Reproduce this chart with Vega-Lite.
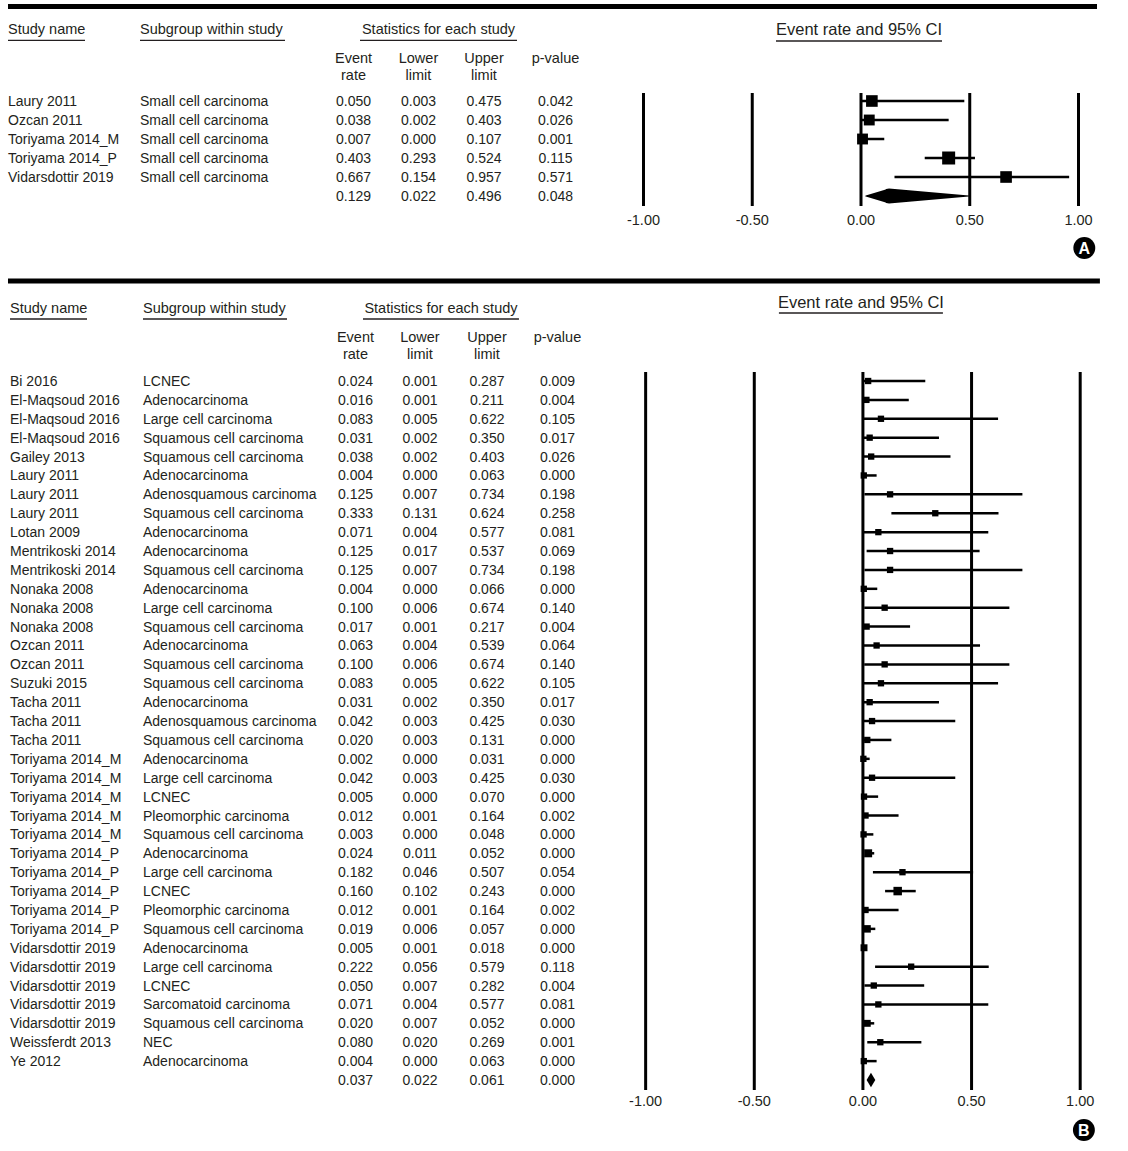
{
  "$schema": "https://vega.github.io/schema/vega-lite/v6.json",
  "padding": 0,
  "spacing": 0,
  "bounds": "flush",
  "background": "white",
  "config": {
    "view": {"stroke": null},
    "axis": {"disable": true},
    "legend": {"disable": true},
    "locale": {"number": {"decimal": ".", "thousands": ",", "grouping": [3], "currency": ["$", ""], "minus": "-"}},
    "text": {"font": "Liberation Sans", "fontSize": 14, "color": "#231f20", "baseline": "middle", "dy": 1}
  },
  "datasets": {
    "ticks": [{"t": -1}, {"t": -0.5}, {"t": 0}, {"t": 0.5}, {"t": 1}],
    "studiesA": [
      {"row": 1, "kind": "study", "study": "Laury 2011", "subgroup": "Small cell carcinoma", "er": 0.050, "lo": 0.003, "hi": 0.475, "p": 0.042, "w": 20.0},
      {"row": 2, "kind": "study", "study": "Ozcan 2011", "subgroup": "Small cell carcinoma", "er": 0.038, "lo": 0.002, "hi": 0.403, "p": 0.026, "w": 17.5},
      {"row": 3, "kind": "study", "study": "Toriyama 2014_M", "subgroup": "Small cell carcinoma", "er": 0.007, "lo": 0.000, "hi": 0.107, "p": 0.001, "w": 17.5},
      {"row": 4, "kind": "study", "study": "Toriyama 2014_P", "subgroup": "Small cell carcinoma", "er": 0.403, "lo": 0.293, "hi": 0.524, "p": 0.115, "w": 25.0},
      {"row": 5, "kind": "study", "study": "Vidarsdottir 2019", "subgroup": "Small cell carcinoma", "er": 0.667, "lo": 0.154, "hi": 0.957, "p": 0.571, "w": 20.0},
      {"row": 6, "kind": "summary", "study": "", "subgroup": "", "er": 0.129, "lo": 0.022, "hi": 0.496, "p": 0.048, "w": 0}
    ],
    "studiesB": [
      {"row": 1, "kind": "study", "study": "Bi 2016", "subgroup": "LCNEC", "er": 0.024, "lo": 0.001, "hi": 0.287, "p": 0.009, "w": 2.5},
      {"row": 2, "kind": "study", "study": "El-Maqsoud 2016", "subgroup": "Adenocarcinoma", "er": 0.016, "lo": 0.001, "hi": 0.211, "p": 0.004, "w": 2.5},
      {"row": 3, "kind": "study", "study": "El-Maqsoud 2016", "subgroup": "Large cell carcinoma", "er": 0.083, "lo": 0.005, "hi": 0.622, "p": 0.105, "w": 2.5},
      {"row": 4, "kind": "study", "study": "El-Maqsoud 2016", "subgroup": "Squamous cell carcinoma", "er": 0.031, "lo": 0.002, "hi": 0.350, "p": 0.017, "w": 2.5},
      {"row": 5, "kind": "study", "study": "Gailey 2013", "subgroup": "Squamous cell carcinoma", "er": 0.038, "lo": 0.002, "hi": 0.403, "p": 0.026, "w": 2.5},
      {"row": 6, "kind": "study", "study": "Laury 2011", "subgroup": "Adenocarcinoma", "er": 0.004, "lo": 0.000, "hi": 0.063, "p": 0.000, "w": 2.5},
      {"row": 7, "kind": "study", "study": "Laury 2011", "subgroup": "Adenosquamous carcinoma", "er": 0.125, "lo": 0.007, "hi": 0.734, "p": 0.198, "w": 2.5},
      {"row": 8, "kind": "study", "study": "Laury 2011", "subgroup": "Squamous cell carcinoma", "er": 0.333, "lo": 0.131, "hi": 0.624, "p": 0.258, "w": 2.5},
      {"row": 9, "kind": "study", "study": "Lotan 2009", "subgroup": "Adenocarcinoma", "er": 0.071, "lo": 0.004, "hi": 0.577, "p": 0.081, "w": 2.5},
      {"row": 10, "kind": "study", "study": "Mentrikoski 2014", "subgroup": "Adenocarcinoma", "er": 0.125, "lo": 0.017, "hi": 0.537, "p": 0.069, "w": 2.5},
      {"row": 11, "kind": "study", "study": "Mentrikoski 2014", "subgroup": "Squamous cell carcinoma", "er": 0.125, "lo": 0.007, "hi": 0.734, "p": 0.198, "w": 2.5},
      {"row": 12, "kind": "study", "study": "Nonaka 2008", "subgroup": "Adenocarcinoma", "er": 0.004, "lo": 0.000, "hi": 0.066, "p": 0.000, "w": 2.5},
      {"row": 13, "kind": "study", "study": "Nonaka 2008", "subgroup": "Large cell carcinoma", "er": 0.100, "lo": 0.006, "hi": 0.674, "p": 0.140, "w": 2.5},
      {"row": 14, "kind": "study", "study": "Nonaka 2008", "subgroup": "Squamous cell carcinoma", "er": 0.017, "lo": 0.001, "hi": 0.217, "p": 0.004, "w": 2.5},
      {"row": 15, "kind": "study", "study": "Ozcan 2011", "subgroup": "Adenocarcinoma", "er": 0.063, "lo": 0.004, "hi": 0.539, "p": 0.064, "w": 2.5},
      {"row": 16, "kind": "study", "study": "Ozcan 2011", "subgroup": "Squamous cell carcinoma", "er": 0.100, "lo": 0.006, "hi": 0.674, "p": 0.140, "w": 2.5},
      {"row": 17, "kind": "study", "study": "Suzuki 2015", "subgroup": "Squamous cell carcinoma", "er": 0.083, "lo": 0.005, "hi": 0.622, "p": 0.105, "w": 2.5},
      {"row": 18, "kind": "study", "study": "Tacha 2011", "subgroup": "Adenocarcinoma", "er": 0.031, "lo": 0.002, "hi": 0.350, "p": 0.017, "w": 2.5},
      {"row": 19, "kind": "study", "study": "Tacha 2011", "subgroup": "Adenosquamous carcinoma", "er": 0.042, "lo": 0.003, "hi": 0.425, "p": 0.030, "w": 2.5},
      {"row": 20, "kind": "study", "study": "Tacha 2011", "subgroup": "Squamous cell carcinoma", "er": 0.020, "lo": 0.003, "hi": 0.131, "p": 0.000, "w": 2.5},
      {"row": 21, "kind": "study", "study": "Toriyama 2014_M", "subgroup": "Adenocarcinoma", "er": 0.002, "lo": 0.000, "hi": 0.031, "p": 0.000, "w": 2.5},
      {"row": 22, "kind": "study", "study": "Toriyama 2014_M", "subgroup": "Large cell carcinoma", "er": 0.042, "lo": 0.003, "hi": 0.425, "p": 0.030, "w": 2.5},
      {"row": 23, "kind": "study", "study": "Toriyama 2014_M", "subgroup": "LCNEC", "er": 0.005, "lo": 0.000, "hi": 0.070, "p": 0.000, "w": 2.5},
      {"row": 24, "kind": "study", "study": "Toriyama 2014_M", "subgroup": "Pleomorphic carcinoma", "er": 0.012, "lo": 0.001, "hi": 0.164, "p": 0.002, "w": 2.5},
      {"row": 25, "kind": "study", "study": "Toriyama 2014_M", "subgroup": "Squamous cell carcinoma", "er": 0.003, "lo": 0.000, "hi": 0.048, "p": 0.000, "w": 2.5},
      {"row": 26, "kind": "study", "study": "Toriyama 2014_P", "subgroup": "Adenocarcinoma", "er": 0.024, "lo": 0.011, "hi": 0.052, "p": 0.000, "w": 4.0},
      {"row": 27, "kind": "study", "study": "Toriyama 2014_P", "subgroup": "Large cell carcinoma", "er": 0.182, "lo": 0.046, "hi": 0.507, "p": 0.054, "w": 2.5},
      {"row": 28, "kind": "study", "study": "Toriyama 2014_P", "subgroup": "LCNEC", "er": 0.160, "lo": 0.102, "hi": 0.243, "p": 0.000, "w": 4.5},
      {"row": 29, "kind": "study", "study": "Toriyama 2014_P", "subgroup": "Pleomorphic carcinoma", "er": 0.012, "lo": 0.001, "hi": 0.164, "p": 0.002, "w": 2.5},
      {"row": 30, "kind": "study", "study": "Toriyama 2014_P", "subgroup": "Squamous cell carcinoma", "er": 0.019, "lo": 0.006, "hi": 0.057, "p": 0.000, "w": 3.5},
      {"row": 31, "kind": "study", "study": "Vidarsdottir 2019", "subgroup": "Adenocarcinoma", "er": 0.005, "lo": 0.001, "hi": 0.018, "p": 0.000, "w": 3.0},
      {"row": 32, "kind": "study", "study": "Vidarsdottir 2019", "subgroup": "Large cell carcinoma", "er": 0.222, "lo": 0.056, "hi": 0.579, "p": 0.118, "w": 2.5},
      {"row": 33, "kind": "study", "study": "Vidarsdottir 2019", "subgroup": "LCNEC", "er": 0.050, "lo": 0.007, "hi": 0.282, "p": 0.004, "w": 2.5},
      {"row": 34, "kind": "study", "study": "Vidarsdottir 2019", "subgroup": "Sarcomatoid carcinoma", "er": 0.071, "lo": 0.004, "hi": 0.577, "p": 0.081, "w": 2.5},
      {"row": 35, "kind": "study", "study": "Vidarsdottir 2019", "subgroup": "Squamous cell carcinoma", "er": 0.020, "lo": 0.007, "hi": 0.052, "p": 0.000, "w": 3.0},
      {"row": 36, "kind": "study", "study": "Weissferdt 2013", "subgroup": "NEC", "er": 0.080, "lo": 0.020, "hi": 0.269, "p": 0.001, "w": 2.5},
      {"row": 37, "kind": "study", "study": "Ye 2012", "subgroup": "Adenocarcinoma", "er": 0.004, "lo": 0.000, "hi": 0.063, "p": 0.000, "w": 2.5},
      {"row": 38, "kind": "summary", "study": "", "subgroup": "", "er": 0.037, "lo": 0.022, "hi": 0.061, "p": 0.000, "w": 0}
    ],
    "badgeA": [{"label": "A"}],
    "badgeB": [{"label": "B"}]
  },
  "vconcat": [
    {
      "width": 1128,
      "height": 279,
      "resolve": {"scale": {"size": "independent"}},
      "layer": [
        {
          "data": {"name": "badgeA"},
          "mark": {"type": "rule", "strokeWidth": 5, "color": "#000000"},
          "encoding": {
            "x": {"datum": -3.9218, "type": "quantitative", "scale": {"domain": [-3.9586, 1.2276], "nice": false, "zero": false}},
            "x2": {"datum": 1.0851},
            "y": {"datum": -3.974, "type": "quantitative", "scale": {"domain": [-4.3158, 10.3684], "nice": false, "zero": false, "reverse": true}}
          }
        },
        {
          "data": {"name": "badgeA"},
          "mark": {"type": "text", "align": "left", "fontSize": 14.5, "text": "Study name"},
          "encoding": {"x": {"datum": -3.9218}, "y": {"datum": -2.789}}
        },
        {
          "data": {"name": "badgeA"},
          "mark": {"type": "text", "align": "left", "fontSize": 14.5, "text": "Subgroup within study"},
          "encoding": {"x": {"datum": -3.3149}, "y": {"datum": -2.789}}
        },
        {
          "data": {"name": "badgeA"},
          "mark": {"type": "text", "align": "center", "fontSize": 14.5, "text": "Statistics for each study"},
          "encoding": {"x": {"datum": -1.9425}, "y": {"datum": -2.789}}
        },
        {
          "data": {"name": "badgeA"},
          "mark": {"type": "text", "align": "center", "fontSize": 16.5, "text": "Event rate and 95% CI"},
          "encoding": {"x": {"datum": -0.0092}, "y": {"datum": -2.789}}
        },
        {
          "data": {"name": "badgeA"},
          "mark": {"type": "rule", "strokeWidth": 1.3, "color": "#231f20"},
          "encoding": {"x": {"datum": -3.9218}, "x2": {"datum": -3.5678}, "y": {"datum": -2.19}}
        },
        {
          "data": {"name": "badgeA"},
          "mark": {"type": "rule", "strokeWidth": 1.3, "color": "#231f20"},
          "encoding": {"x": {"datum": -3.3149}, "x2": {"datum": -2.6483}, "y": {"datum": -2.19}}
        },
        {
          "data": {"name": "badgeA"},
          "mark": {"type": "rule", "strokeWidth": 1.3, "color": "#231f20"},
          "encoding": {"x": {"datum": -2.3034}, "x2": {"datum": -1.5816}, "y": {"datum": -2.19}}
        },
        {
          "data": {"name": "badgeA"},
          "mark": {"type": "rule", "strokeWidth": 1.3, "color": "#231f20"},
          "encoding": {"x": {"datum": -0.3908}, "x2": {"datum": 0.3724}, "y": {"datum": -2.158}}
        },
        {
          "data": {"name": "badgeA"},
          "mark": {"type": "text", "align": "center", "fontSize": 14.5, "lineHeight": 17, "text": ["Event", "rate"]},
          "encoding": {"x": {"datum": -2.3333}, "y": {"datum": -1.263}}
        },
        {
          "data": {"name": "badgeA"},
          "mark": {"type": "text", "align": "center", "fontSize": 14.5, "lineHeight": 17, "text": ["Lower", "limit"]},
          "encoding": {"x": {"datum": -2.0345}, "y": {"datum": -1.263}}
        },
        {
          "data": {"name": "badgeA"},
          "mark": {"type": "text", "align": "center", "fontSize": 14.5, "lineHeight": 17, "text": ["Upper", "limit"]},
          "encoding": {"x": {"datum": -1.7333}, "y": {"datum": -1.263}}
        },
        {
          "data": {"name": "badgeA"},
          "mark": {"type": "text", "align": "center", "fontSize": 14.5, "text": "p-value"},
          "encoding": {"x": {"datum": -1.4046}, "y": {"datum": -1.263}}
        },
        {
          "data": {"name": "studiesA"},
          "mark": {"type": "text", "align": "left"},
          "encoding": {"x": {"datum": -3.9218}, "y": {"field": "row", "type": "quantitative"}, "text": {"field": "study"}}
        },
        {
          "data": {"name": "studiesA"},
          "mark": {"type": "text", "align": "left"},
          "encoding": {"x": {"datum": -3.3149}, "y": {"field": "row", "type": "quantitative"}, "text": {"field": "subgroup"}}
        },
        {
          "data": {"name": "studiesA"},
          "mark": {"type": "text", "align": "center"},
          "encoding": {"x": {"datum": -2.3333}, "y": {"field": "row", "type": "quantitative"}, "text": {"field": "er", "type": "quantitative", "format": ".3f"}}
        },
        {
          "data": {"name": "studiesA"},
          "mark": {"type": "text", "align": "center"},
          "encoding": {"x": {"datum": -2.0345}, "y": {"field": "row", "type": "quantitative"}, "text": {"field": "lo", "type": "quantitative", "format": ".3f"}}
        },
        {
          "data": {"name": "studiesA"},
          "mark": {"type": "text", "align": "center"},
          "encoding": {"x": {"datum": -1.7333}, "y": {"field": "row", "type": "quantitative"}, "text": {"field": "hi", "type": "quantitative", "format": ".3f"}}
        },
        {
          "data": {"name": "studiesA"},
          "mark": {"type": "text", "align": "center"},
          "encoding": {"x": {"datum": -1.4046}, "y": {"field": "row", "type": "quantitative"}, "text": {"field": "p", "type": "quantitative", "format": ".3f"}}
        },
        {
          "data": {"name": "ticks"},
          "mark": {"type": "rule", "strokeWidth": 3, "color": "#000000"},
          "encoding": {"x": {"field": "t", "type": "quantitative"}, "y": {"datum": 0.579}, "y2": {"datum": 6.526}}
        },
        {
          "data": {"name": "ticks"},
          "mark": {"type": "text", "align": "center", "fontSize": 14.5},
          "encoding": {"x": {"field": "t", "type": "quantitative"}, "y": {"datum": 7.263}, "text": {"field": "t", "type": "quantitative", "format": ".2f"}}
        },
        {
          "data": {"name": "studiesA"},
          "transform": [{"filter": "datum.kind === 'study'"}],
          "mark": {"type": "rule", "strokeWidth": 2.5, "color": "#000000"},
          "encoding": {"x": {"field": "lo", "type": "quantitative"}, "x2": {"field": "hi"}, "y": {"field": "row", "type": "quantitative"}}
        },
        {
          "data": {"name": "studiesA"},
          "transform": [{"filter": "datum.kind === 'study'"}],
          "mark": {"type": "point", "shape": "square", "filled": true, "opacity": 1, "color": "#000000"},
          "encoding": {
            "x": {"field": "er", "type": "quantitative"},
            "y": {"field": "row", "type": "quantitative"},
            "size": {"field": "w", "type": "quantitative", "scale": {"domain": [0, 25], "range": [0, 169], "zero": true}, "legend": null}
          }
        },
        {
          "data": {"name": "studiesA"},
          "transform": [{"filter": "datum.kind === 'summary'"}, {"fold": ["lo", "er", "hi"], "as": ["k", "v"]}],
          "mark": {"type": "trail", "color": "#000000"},
          "encoding": {
            "x": {"field": "v", "type": "quantitative"},
            "y": {"field": "row", "type": "quantitative"},
            "order": {"field": "v", "type": "quantitative"},
            "size": {"field": "k", "type": "ordinal", "scale": {"type": "ordinal", "domain": ["lo", "er", "hi"], "range": [0, 15, 0]}, "legend": null}
          }
        },
        {
          "data": {"name": "badgeA"},
          "mark": {"type": "point", "shape": "circle", "filled": true, "opacity": 1, "color": "#000000", "size": 480},
          "encoding": {"x": {"datum": 1.0267}, "y": {"datum": 8.737}}
        },
        {
          "data": {"name": "badgeA"},
          "mark": {"type": "text", "align": "center", "fontSize": 16, "fontWeight": "bold", "color": "#ffffff"},
          "encoding": {"x": {"datum": 1.0267}, "y": {"datum": 8.737}, "text": {"field": "label"}}
        }
      ]
    },
    {
      "width": 1128,
      "height": 872,
      "resolve": {"scale": {"size": "independent"}},
      "layer": [
        {
          "data": {"name": "badgeB"},
          "mark": {"type": "rule", "strokeWidth": 5, "color": "#000000"},
          "encoding": {
            "x": {"datum": -3.9347, "type": "quantitative", "scale": {"domain": [-3.9715, 1.22], "nice": false, "zero": false}},
            "x2": {"datum": 1.0907},
            "y": {"datum": -4.293, "type": "quantitative", "scale": {"domain": [-4.399, 41.758], "nice": false, "zero": false, "reverse": true}}
          }
        },
        {
          "data": {"name": "badgeB"},
          "mark": {"type": "text", "align": "left", "fontSize": 14.5, "text": "Study name"},
          "encoding": {"x": {"datum": -3.9254}, "y": {"datum": -2.864}}
        },
        {
          "data": {"name": "badgeB"},
          "mark": {"type": "text", "align": "left", "fontSize": 14.5, "text": "Subgroup within study"},
          "encoding": {"x": {"datum": -3.3134}, "y": {"datum": -2.864}}
        },
        {
          "data": {"name": "badgeB"},
          "mark": {"type": "text", "align": "center", "fontSize": 14.5, "text": "Statistics for each study"},
          "encoding": {"x": {"datum": -1.942}, "y": {"datum": -2.864}}
        },
        {
          "data": {"name": "badgeB"},
          "mark": {"type": "text", "align": "center", "fontSize": 16.5, "text": "Event rate and 95% CI"},
          "encoding": {"x": {"datum": -0.0092}, "y": {"datum": -3.181}}
        },
        {
          "data": {"name": "badgeB"},
          "mark": {"type": "rule", "strokeWidth": 1.3, "color": "#231f20"},
          "encoding": {"x": {"datum": -3.9254}, "x2": {"datum": -3.5711}, "y": {"datum": -2.282}}
        },
        {
          "data": {"name": "badgeB"},
          "mark": {"type": "rule", "strokeWidth": 1.3, "color": "#231f20"},
          "encoding": {"x": {"datum": -3.3134}, "x2": {"datum": -2.6507}, "y": {"datum": -2.282}}
        },
        {
          "data": {"name": "badgeB"},
          "mark": {"type": "rule", "strokeWidth": 1.3, "color": "#231f20"},
          "encoding": {"x": {"datum": -2.301}, "x2": {"datum": -1.5831}, "y": {"datum": -2.282}}
        },
        {
          "data": {"name": "badgeB"},
          "mark": {"type": "rule", "strokeWidth": 1.3, "color": "#231f20"},
          "encoding": {"x": {"datum": -0.3866}, "x2": {"datum": 0.3682}, "y": {"datum": -2.599}}
        },
        {
          "data": {"name": "badgeB"},
          "mark": {"type": "text", "align": "center", "fontSize": 14.5, "lineHeight": 17.5, "text": ["Event", "rate"]},
          "encoding": {"x": {"datum": -2.3355}, "y": {"datum": -1.329}}
        },
        {
          "data": {"name": "badgeB"},
          "mark": {"type": "text", "align": "center", "fontSize": 14.5, "lineHeight": 17.5, "text": ["Lower", "limit"]},
          "encoding": {"x": {"datum": -2.0387}, "y": {"datum": -1.329}}
        },
        {
          "data": {"name": "badgeB"},
          "mark": {"type": "text", "align": "center", "fontSize": 14.5, "lineHeight": 17.5, "text": ["Upper", "limit"]},
          "encoding": {"x": {"datum": -1.7303}, "y": {"datum": -1.329}}
        },
        {
          "data": {"name": "badgeB"},
          "mark": {"type": "text", "align": "center", "fontSize": 14.5, "text": "p-value"},
          "encoding": {"x": {"datum": -1.4059}, "y": {"datum": -1.329}}
        },
        {
          "data": {"name": "studiesB"},
          "mark": {"type": "text", "align": "left"},
          "encoding": {"x": {"datum": -3.9254}, "y": {"field": "row", "type": "quantitative"}, "text": {"field": "study"}}
        },
        {
          "data": {"name": "studiesB"},
          "mark": {"type": "text", "align": "left"},
          "encoding": {"x": {"datum": -3.3134}, "y": {"field": "row", "type": "quantitative"}, "text": {"field": "subgroup"}}
        },
        {
          "data": {"name": "studiesB"},
          "mark": {"type": "text", "align": "center"},
          "encoding": {"x": {"datum": -2.3355}, "y": {"field": "row", "type": "quantitative"}, "text": {"field": "er", "type": "quantitative", "format": ".3f"}}
        },
        {
          "data": {"name": "studiesB"},
          "mark": {"type": "text", "align": "center"},
          "encoding": {"x": {"datum": -2.0387}, "y": {"field": "row", "type": "quantitative"}, "text": {"field": "lo", "type": "quantitative", "format": ".3f"}}
        },
        {
          "data": {"name": "studiesB"},
          "mark": {"type": "text", "align": "center"},
          "encoding": {"x": {"datum": -1.7303}, "y": {"field": "row", "type": "quantitative"}, "text": {"field": "hi", "type": "quantitative", "format": ".3f"}}
        },
        {
          "data": {"name": "studiesB"},
          "mark": {"type": "text", "align": "center"},
          "encoding": {"x": {"datum": -1.4059}, "y": {"field": "row", "type": "quantitative"}, "text": {"field": "p", "type": "quantitative", "format": ".3f"}}
        },
        {
          "data": {"name": "ticks"},
          "mark": {"type": "rule", "strokeWidth": 3, "color": "#000000"},
          "encoding": {"x": {"field": "t", "type": "quantitative"}, "y": {"datum": 0.523}, "y2": {"datum": 38.53}}
        },
        {
          "data": {"name": "ticks"},
          "mark": {"type": "text", "align": "center", "fontSize": 14.5},
          "encoding": {"x": {"field": "t", "type": "quantitative"}, "y": {"datum": 39.11}, "text": {"field": "t", "type": "quantitative", "format": ".2f"}}
        },
        {
          "data": {"name": "studiesB"},
          "transform": [{"filter": "datum.kind === 'study'"}],
          "mark": {"type": "rule", "strokeWidth": 2.5, "color": "#000000"},
          "encoding": {"x": {"field": "lo", "type": "quantitative"}, "x2": {"field": "hi"}, "y": {"field": "row", "type": "quantitative"}}
        },
        {
          "data": {"name": "studiesB"},
          "transform": [{"filter": "datum.kind === 'study'"}],
          "mark": {"type": "point", "shape": "square", "filled": true, "opacity": 1, "color": "#000000"},
          "encoding": {
            "x": {"field": "er", "type": "quantitative"},
            "y": {"field": "row", "type": "quantitative"},
            "size": {"field": "w", "type": "quantitative", "scale": {"domain": [0, 5], "range": [0, 80], "zero": true}, "legend": null}
          }
        },
        {
          "data": {"name": "studiesB"},
          "transform": [{"filter": "datum.kind === 'summary'"}],
          "mark": {"type": "point", "shape": "M-0.6,0L0,-1L0.6,0L0,1Z", "filled": true, "opacity": 1, "color": "#000000", "size": 210},
          "encoding": {"x": {"field": "er", "type": "quantitative"}, "y": {"field": "row", "type": "quantitative"}}
        },
        {
          "data": {"name": "badgeB"},
          "mark": {"type": "point", "shape": "circle", "filled": true, "opacity": 1, "color": "#000000", "size": 480},
          "encoding": {"x": {"datum": 1.017}, "y": {"datum": 40.65}}
        },
        {
          "data": {"name": "badgeB"},
          "mark": {"type": "text", "align": "center", "fontSize": 16, "fontWeight": "bold", "color": "#ffffff"},
          "encoding": {"x": {"datum": 1.017}, "y": {"datum": 40.65}, "text": {"field": "label"}}
        }
      ]
    }
  ]
}
